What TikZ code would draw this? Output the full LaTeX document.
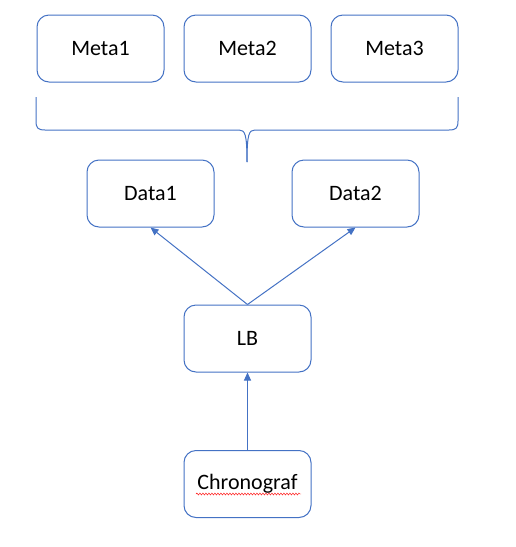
\documentclass[tikz,border=0pt]{standalone}
\usepackage{fontspec}
\setmainfont{Carlito}
\usetikzlibrary{arrows.meta,decorations.pathmorphing}
\definecolor{wordblue}{HTML}{4472C4}
\tikzset{box/.style={draw=wordblue,rounded corners=12pt,line width=1pt,minimum width=127pt,minimum height=67pt,font=\fontsize{22}{26}\selectfont}}
\begin{document}
\begin{tikzpicture}[x=1pt,y=-1pt,>={Triangle[length=8pt,width=7pt]}]
				\useasboundingbox (0,0) rectangle (516,547);
				\node[box] (meta1) at (100.5,48.5) {Meta1};
				\node[box] (meta2) at (247.5,48.5) {Meta2};
				\node[box] (meta3) at (394.5,48.5) {Meta3};
				\node[box] (data1) at (150.5,193.5) {Data1};
				\node[box] (data2) at (355.5,193.5) {Data2};
				\node[box] (lb) at (247.5,338.5) {LB};
				\node[box] (chrono) at (247.5,484) {Chronograf};
				% brace under the meta boxes
				\draw[wordblue,line width=1pt] (36,97) -- (36,121) .. controls (36,128) and (38,130) .. (45,130) -- (239,130) .. controls (245,130) and (247,134) .. (247,162);
				\draw[wordblue,line width=1pt] (458,97) -- (458,121) .. controls (458,128) and (456,130) .. (449,130) -- (255,130) .. controls (249,130) and (247,134) .. (247,162);
				\draw[->,wordblue,line width=1pt] (lb.north) -- (data1.south);
				\draw[->,wordblue,line width=1pt] (lb.north) -- (data2.south);
				\draw[->,wordblue,line width=1pt] (chrono.north) -- (lb.south);
				\draw[red,decorate,decoration={snake,amplitude=1pt,segment length=3pt}] (196,494) -- (301,494);
		\end{tikzpicture}
\end{document}
